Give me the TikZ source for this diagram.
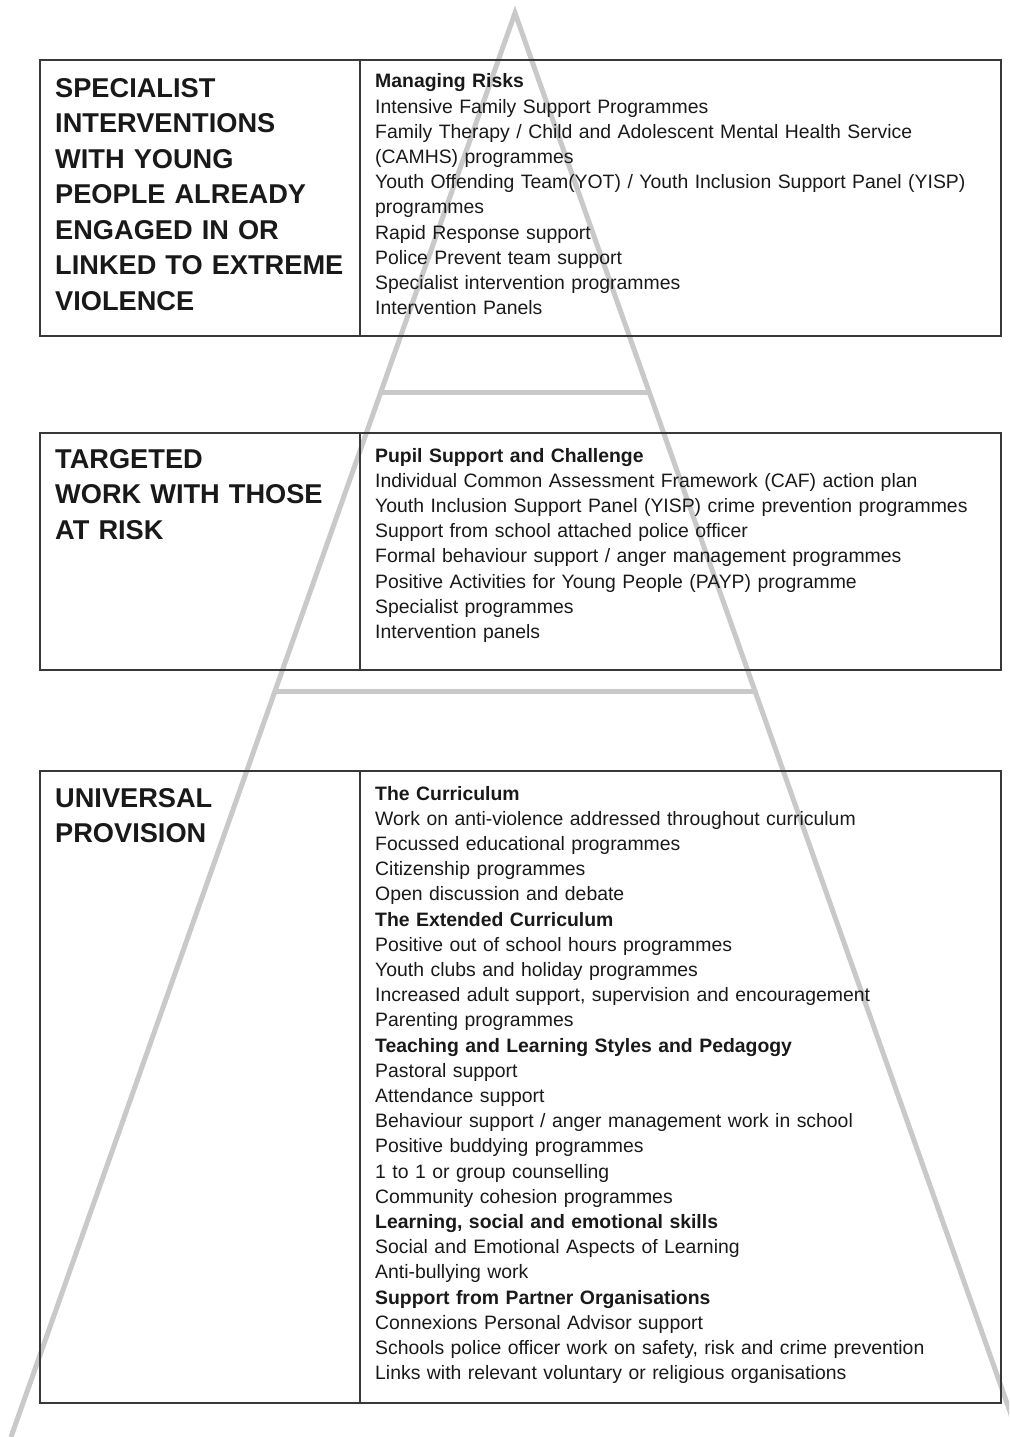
\documentclass[tikz,border=0pt]{standalone}
\usepackage{fontspec}
\setmainfont{Liberation Sans}
\usetikzlibrary{calc}

\begin{document}
\begin{tikzpicture}[x=1pt, y=-1pt,
  pyr/.style={line width=5pt, draw=black!21, line join=miter},
  tierbox/.style={line width=1.8pt, draw=black!78},
  headtext/.style={anchor=base west, inner sep=0pt, align=left, text width=300pt,
    font=\fontsize{27.2}{35.5}\selectfont\bfseries, text=black!90},
  listtext/.style={anchor=base west, inner sep=0pt, align=left, text width=620pt,
    font=\fontsize{19.4}{25.2}\selectfont, text=black!90}]
  % ============================================================
  % units: 1pt = 1 pixel of the page, y runs downwards
  % ============================================================
  \def\Xl{40}    % left edge of the boxes
  \def\Xm{360}   % column divider
  \def\Xr{1001}  % right edge of the boxes
  \useasboundingbox (0,0) rectangle (1009,1437);

  % 1. Pyramid (behind everything)
  \coordinate (apex) at (515,13);
  \coordinate (bl) at (11,1437);
  \coordinate (br) at (1019,1437);
  \begin{scope}
    \clip (0,0) rectangle (1009,1437);
    \draw[pyr] (bl) -- (apex) -- (br);
    % tier dividers
    \draw[pyr] ($(apex)!0.2662!(bl)$) -- ($(apex)!0.2662!(br)$);
    \draw[pyr] ($(apex)!0.4768!(bl)$) -- ($(apex)!0.4768!(br)$);
  \end{scope}

  % 2. Boxes
  \draw[tierbox] (\Xl,60) rectangle (\Xr,336);
  \draw[tierbox] (\Xm,60) -- (\Xm,336);
  \draw[tierbox] (\Xl,433) rectangle (\Xr,670);
  \draw[tierbox] (\Xm,433) -- (\Xm,670);
  \draw[tierbox] (\Xl,771) rectangle (\Xr,1403);
  \draw[tierbox] (\Xm,771) -- (\Xm,1403);

  % 3. Specialist tier
  \node[headtext] (spechead) at (55,97) {SPECIALIST\\INTERVENTIONS\\WITH YOUNG\\PEOPLE ALREADY\\ENGAGED IN OR\\LINKED TO EXTREME\\VIOLENCE};
  \node[listtext] (speclist) at (375,88) {\textbf{Managing Risks}\\
    Intensive Family Support Programmes\\
    Family Therapy / Child and Adolescent Mental Health Service\\
    (CAMHS) programmes\\
    Youth Offending Team(YOT) / Youth Inclusion Support Panel (YISP)\\
    programmes\\
    Rapid Response support\\
    Police Prevent team support\\
    Specialist intervention programmes\\
    Intervention Panels};

  % 4. Targeted tier
  \node[headtext] (targhead) at (55,468) {TARGETED\\WORK WITH THOSE\\AT RISK};
  \node[listtext] (targlist) at (375,462) {\textbf{Pupil Support and Challenge}\\
    Individual Common Assessment Framework (CAF) action plan\\
    Youth Inclusion Support Panel (YISP) crime prevention programmes\\
    Support from school attached police officer\\
    Formal behaviour support / anger management programmes\\
    Positive Activities for Young People (PAYP) programme\\
    Specialist programmes\\
    Intervention panels};

  % 5. Universal tier
  \node[headtext] (univhead) at (55,807) {UNIVERSAL\\PROVISION};
  \node[listtext] (univlist) at (375,800) {\textbf{The Curriculum}\\
    Work on anti-violence addressed throughout curriculum\\
    Focussed educational programmes\\
    Citizenship programmes\\
    Open discussion and debate\\
    \textbf{The Extended Curriculum}\\
    Positive out of school hours programmes\\
    Youth clubs and holiday programmes\\
    Increased adult support, supervision and encouragement\\
    Parenting programmes\\
    \textbf{Teaching and Learning Styles and Pedagogy}\\
    Pastoral support\\
    Attendance support\\
    Behaviour support / anger management work in school\\
    Positive buddying programmes\\
    1 to 1 or group counselling\\
    Community cohesion programmes\\
    \textbf{Learning, social and emotional skills}\\
    Social and Emotional Aspects of Learning\\
    Anti-bullying work\\
    \textbf{Support from Partner Organisations}\\
    Connexions Personal Advisor support\\
    Schools police officer work on safety, risk and crime prevention\\
    Links with relevant voluntary or religious organisations};
\end{tikzpicture}
\end{document}
